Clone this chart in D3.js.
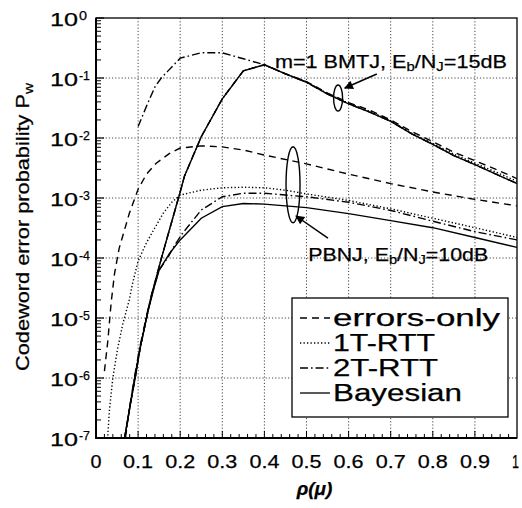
<!DOCTYPE html>
<html>
<head>
<meta charset="utf-8">
<script src="https://cdn.jsdelivr.net/npm/d3@7"></script>
<style>
  body { margin: 0; background: #fff; }
  text { font-family: "Liberation Sans", Arial, sans-serif; fill: #000; stroke: #000; stroke-width: 0.25; }
</style>
</head>
<body>
<div id="chart"></div>
<script>
// ρ(μ) sample points and codeword error probabilities

// m=1 BMTJ, Eb/NJ = 15 dB
var bmtjRho = [0.068, 0.08, 0.093, 0.105, 0.12, 0.131, 0.15, 0.17, 0.2, 0.21, 0.25, 0.3, 0.35,
  0.4, 0.45, 0.5, 0.55, 0.6, 0.65, 0.7, 0.75, 0.8, 0.85, 0.9, 0.95, 1.0];
var bmtjBayes = [1e-7, 3.2e-7, 1e-6, 3.2e-6, 1e-5, 2.3e-5, 7.2e-5, 2.3e-4, 1.26e-3, 2.3e-3, 1.05e-2, 4.5e-2, 0.132,
  0.166, 0.117, 0.085, 0.054, 0.037, 0.027, 0.019, 0.0117, 0.0078, 0.0051, 0.0036, 0.0025, 0.00174];
var bmtjErrOnly = [1e-7, 3.2e-7, 1e-6, 3.2e-6, 1e-5, 2.3e-5, 7.2e-5, 2.3e-4, 1.26e-3, 2.3e-3, 1.05e-2, 4.5e-2, 0.132,
  0.166, 0.118, 0.087, 0.056, 0.039, 0.029, 0.020, 0.0128, 0.0087, 0.0058, 0.0042, 0.0030, 0.0021];
var bmtj1T = [1e-7, 3.2e-7, 1e-6, 3.2e-6, 1e-5, 2.3e-5, 7.2e-5, 2.3e-4, 1.26e-3, 2.3e-3, 1.05e-2, 4.5e-2, 0.132,
  0.166, 0.117, 0.086, 0.055, 0.038, 0.028, 0.0195, 0.012, 0.0081, 0.0054, 0.0038, 0.0027, 0.0019];
var bmtj2TRho = [0.1, 0.12, 0.14, 0.155, 0.17, 0.2, 0.25, 0.3, 0.35, 0.4, 0.45, 0.5, 0.55, 0.6,
  0.65, 0.7, 0.75, 0.8, 0.85, 0.9, 0.95, 1.0];
var bmtj2T = [0.0155, 0.034, 0.071, 0.1, 0.129, 0.214, 0.263, 0.263, 0.209, 0.166, 0.117, 0.085, 0.054, 0.037,
  0.027, 0.019, 0.0117, 0.0078, 0.0051, 0.0036, 0.0025, 0.00174];

// PBNJ, Eb/NJ = 10 dB
var pbnjErrRho = [0.02, 0.028, 0.036, 0.044, 0.055, 0.079, 0.1, 0.12, 0.143, 0.174, 0.2, 0.25, 0.3,
  0.35, 0.4, 0.5, 0.6, 0.7, 0.8, 0.9, 1.0];
var pbnjErrOnly = [1.3e-6, 4.1e-6, 1.8e-5, 5.5e-5, 1.45e-4, 5.5e-4, 1.4e-3, 2.5e-3, 3.8e-3, 5.5e-3, 6.8e-3, 7.4e-3, 7.1e-3,
  6.3e-3, 5.2e-3, 3.7e-3, 2.5e-3, 1.74e-3, 1.26e-3, 9.5e-4, 7.4e-4];
var pbnj1TRho = [0.028, 0.032, 0.04, 0.051, 0.063, 0.079, 0.087, 0.1, 0.12, 0.14, 0.16, 0.18, 0.2, 0.25,
  0.3, 0.35, 0.4, 0.45, 0.5, 0.6, 0.7, 0.8, 0.9, 1.0];
var pbnj1T = [1.1e-7, 3e-7, 1e-6, 3e-6, 7.6e-6, 2e-5, 3.8e-5, 8.9e-5, 1.8e-4, 3.2e-4, 5.6e-4, 8.5e-4, 1.12e-3, 1.35e-3,
  1.48e-3, 1.51e-3, 1.48e-3, 1.35e-3, 1.17e-3, 9.1e-4, 6.6e-4, 4.6e-4, 3.2e-4, 2.2e-4];
var pbnj2TRho = [0.07, 0.079, 0.091, 0.103, 0.123, 0.139, 0.15, 0.17, 0.186, 0.206, 0.25, 0.3, 0.35,
  0.4, 0.45, 0.5, 0.6, 0.7, 0.8, 0.9, 1.0];
var pbnj2T = [1e-7, 3e-7, 1e-6, 3e-6, 1.35e-5, 3.5e-5, 6.3e-5, 1e-4, 1.6e-4, 2.6e-4, 6.3e-4, 1.05e-3, 1.2e-3,
  1.2e-3, 1.12e-3, 1.05e-3, 8.5e-4, 6.2e-4, 4.1e-4, 2.75e-4, 2e-4];
var pbnjBayesRho = [0.068, 0.079, 0.091, 0.103, 0.123, 0.139, 0.15, 0.175, 0.2, 0.25, 0.3, 0.35, 0.4,
  0.45, 0.5, 0.6, 0.7, 0.8, 0.9, 1.0];
var pbnjBayes = [1e-7, 2.8e-7, 9.3e-7, 2.75e-6, 1.26e-5, 3.4e-5, 6.3e-5, 1.2e-4, 2e-4, 4.6e-4, 7.2e-4, 8.1e-4, 7.9e-4,
  7.4e-4, 6.9e-4, 5.5e-4, 4.2e-4, 3.2e-4, 2.2e-4, 1.5e-4];

// tick labels
var xTicks = [0, 0.1, 0.2, 0.3, 0.4, 0.5, 0.6, 0.7, 0.8, 0.9, 1];
var yExponents = [0, -1, -2, -3, -4, -5, -6, -7];
var legendNames = ["errors-only", "1T-RTT", "2T-RTT", "Bayesian"];

// line styles per method
var dashes = {"errors-only": "7,5", "1T-RTT": "1.3,2.2", "2T-RTT": "8,3,1.6,3", "Bayesian": null};

var W = 522, H = 508;
var margin = {top: 18, left: 96, right: 5, bottom: 70};
var width = W - margin.left - margin.right,
    height = H - margin.top - margin.bottom;

var svg = d3.select("#chart").append("svg")
    .attr("width", W)
    .attr("height", H);

var x = d3.scaleLinear().domain([0, 1]).range([margin.left, margin.left + width]);
var y = d3.scaleLog().domain([1e-7, 1]).range([margin.top + height, margin.top]);

svg.append("clipPath").attr("id", "plot")
  .append("rect")
    .attr("x", x(0)).attr("y", y(1))
    .attr("width", width).attr("height", height);

// dotted grid
var grid = svg.append("g").attr("stroke", "#333").attr("stroke-width", 0.9)
    .attr("stroke-dasharray", "1.2,2");
grid.selectAll(".gx").data(xTicks.slice(1, -1)).enter().append("line")
    .attr("x1", d => x(d)).attr("x2", d => x(d))
    .attr("y1", y(1)).attr("y2", y(1e-7));
grid.selectAll(".gy").data(yExponents.slice(1, -1)).enter().append("line")
    .attr("x1", x(0)).attr("x2", x(1))
    .attr("y1", d => y(Math.pow(10, d))).attr("y2", d => y(Math.pow(10, d)));

// minor log ticks on the left
var minor = [];
for (var e = -7; e < 0; e++) {
  for (var k = 2; k <= 9; k++) minor.push(k * Math.pow(10, e));
}
svg.append("g").selectAll("line").data(minor).enter().append("line")
    .attr("x1", x(0)).attr("x2", x(0) + 5)
    .attr("y1", d => y(d)).attr("y2", d => y(d))
    .attr("stroke", "#000").attr("stroke-width", 1);
svg.append("g").selectAll("line").data(yExponents).enter().append("line")
    .attr("x1", x(0)).attr("x2", x(0) + 8)
    .attr("y1", d => y(Math.pow(10, d))).attr("y2", d => y(Math.pow(10, d)))
    .attr("stroke", "#000").attr("stroke-width", 1.2);

// minor ticks along the bottom every 0.02
svg.append("g").selectAll("line").data(d3.range(1, 50)).enter().append("line")
    .attr("x1", d => x(d / 50)).attr("x2", d => x(d / 50))
    .attr("y1", y(1e-7)).attr("y2", d => y(1e-7) - (d % 5 === 0 ? 7 : 4))
    .attr("stroke", "#000").attr("stroke-width", 1);

// curves
var line = d3.line()
    .x(d => x(d[0]))
    .y(d => y(d[1]));

var curves = [
  {name: "errors-only", rho: pbnjErrRho, pw: pbnjErrOnly},
  {name: "1T-RTT", rho: pbnj1TRho, pw: pbnj1T},
  {name: "2T-RTT", rho: pbnj2TRho, pw: pbnj2T},
  {name: "Bayesian", rho: pbnjBayesRho, pw: pbnjBayes},
  {name: "Bayesian", rho: bmtjRho, pw: bmtjBayes},
  {name: "1T-RTT", rho: bmtjRho, pw: bmtj1T},
  {name: "errors-only", rho: bmtjRho, pw: bmtjErrOnly},
  {name: "2T-RTT", rho: bmtj2TRho, pw: bmtj2T}
];

svg.append("g").attr("clip-path", "url(#plot)")
  .selectAll("path").data(curves).enter().append("path")
    .attr("d", d => line(d3.zip(d.rho, d.pw)))
    .attr("fill", "none")
    .attr("stroke", "#000")
    .attr("stroke-width", 1.4)
    .attr("stroke-dasharray", d => dashes[d.name]);

// frame
svg.append("rect")
    .attr("x", x(0)).attr("y", y(1))
    .attr("width", width).attr("height", height)
    .attr("fill", "none").attr("stroke", "#000").attr("stroke-width", 1.3);
svg.append("path")
    .attr("d", "M" + x(0) + "," + y(1) + "V" + y(1e-7) + "H" + x(1))
    .attr("fill", "none").attr("stroke", "#000").attr("stroke-width", 2);

// x tick labels
var xLabelWidth = function(d) { return d === 0 ? 11 : (d === 1 ? 7 : 30); };
svg.append("g").selectAll("text").data(xTicks).enter().append("text")
    .attr("x", d => d === 1 ? x(d) - 1.5 : x(d))
    .attr("y", y(1e-7) + 30)
    .attr("text-anchor", "middle")
    .attr("font-size", 19)
    .attr("textLength", xLabelWidth)
    .attr("lengthAdjust", "spacingAndGlyphs")
    .text(d => d3.format("~g")(d));

// y tick labels, 10 with superscript exponent
var yl = svg.append("g").selectAll("g").data(yExponents).enter().append("g");
yl.append("text")
    .attr("x", 50)
    .attr("y", d => y(Math.pow(10, d)) + 8)
    .attr("font-size", 19)
    .attr("textLength", 28)
    .attr("lengthAdjust", "spacingAndGlyphs")
    .text("10");
yl.append("text")
    .attr("x", 79)
    .attr("y", d => y(Math.pow(10, d)) + 2)
    .attr("font-size", 13)
    .attr("textLength", d => d === 0 ? 8 : 11)
    .attr("lengthAdjust", "spacingAndGlyphs")
    .text(d => d === 0 ? "0" : "-" + Math.abs(d));

// axis titles
var yt = svg.append("text")
    .attr("transform", "translate(29," + 227 + ") rotate(-90)")
    .attr("text-anchor", "middle")
    .attr("font-size", 18.5)
    .attr("textLength", 288)
    .attr("lengthAdjust", "spacingAndGlyphs");
yt.append("tspan").text("Codeword error probability P");
yt.append("tspan").attr("font-size", 13).attr("dy", 4).text("w");

svg.append("text")
    .attr("x", x(0.5) + 8)
    .attr("y", 495)
    .attr("text-anchor", "middle")
    .attr("font-family", "'Liberation Serif', 'DejaVu Serif', serif")
    .attr("font-style", "italic")
    .attr("font-weight", "bold")
    .attr("font-size", 19)
    .text("\u03c1(\u03bc)");

// annotations
function subLabel(px, py, len, parts) {
  var t = svg.append("text")
      .attr("x", px).attr("y", py)
      .attr("font-size", 19)
      .attr("textLength", len)
      .attr("lengthAdjust", "spacingAndGlyphs");
  parts.forEach(function(p) {
    t.append("tspan")
        .attr("font-size", p.sub ? 13 : 19)
        .attr("dy", p.sub ? 3 : (p.after ? -3 : 0))
        .text(p.s);
  });
}
subLabel(x(0.425), y(Math.pow(10, -0.833)), 232, [
  {s: "m=1 BMTJ, E"}, {s: "b", sub: true}, {s: "/N", after: true}, {s: "J", sub: true}, {s: "=15dB", after: true}]);
subLabel(x(0.504), y(Math.pow(10, -4.05)), 180, [
  {s: "PBNJ, E"}, {s: "b", sub: true}, {s: "/N", after: true}, {s: "J", sub: true}, {s: "=10dB", after: true}]);

svg.append("defs").append("marker")
    .attr("id", "head")
    .attr("viewBox", "0 0 10 10")
    .attr("refX", 9).attr("refY", 5)
    .attr("markerWidth", 13).attr("markerHeight", 9)
    .attr("markerUnits", "userSpaceOnUse")
    .attr("orient", "auto")
  .append("path").attr("d", "M0,0L10,5L0,10Z").attr("fill", "#000");

var notes = [
  {cx: 0.575, cy: -1.333, rx: 4.5, ry: 13, from: [0.667, -0.933], to: [0.591, -1.167]},
  {cx: 0.468, cy: -2.78, rx: 7, ry: 38, from: [0.551, -3.667], to: [0.475, -3.3]}
];
notes.forEach(function(n) {
  svg.append("ellipse")
      .attr("cx", x(n.cx)).attr("cy", y(Math.pow(10, n.cy)))
      .attr("rx", n.rx).attr("ry", n.ry)
      .attr("fill", "none").attr("stroke", "#000").attr("stroke-width", 1.4);
  svg.append("line")
      .attr("x1", x(n.from[0])).attr("y1", y(Math.pow(10, n.from[1])))
      .attr("x2", x(n.to[0])).attr("y2", y(Math.pow(10, n.to[1])))
      .attr("stroke", "#000").attr("stroke-width", 1.5)
      .attr("marker-end", "url(#head)");
});

// legend
var legend = svg.append("g").attr("transform", "translate(292,298)");
legend.append("rect")
    .attr("width", 216).attr("height", 119)
    .attr("fill", "#fff").attr("stroke", "#000").attr("stroke-width", 1.3);
var legendWidths = [167, 102, 105, 129];
var items = legend.selectAll(".item").data(legendNames).enter().append("g")
    .attr("transform", (d, i) => "translate(0," + (20 + i * 25) + ")");
items.append("line")
    .attr("x1", 8).attr("x2", 38)
    .attr("stroke", "#000").attr("stroke-width", 1.3)
    .attr("stroke-dasharray", d => dashes[d]);
items.append("text")
    .attr("x", 41).attr("y", 8)
    .attr("font-size", 23)
    .attr("textLength", (d, i) => legendWidths[i])
    .attr("lengthAdjust", "spacingAndGlyphs")
    .text(d => d);
</script>
</body>
</html>
